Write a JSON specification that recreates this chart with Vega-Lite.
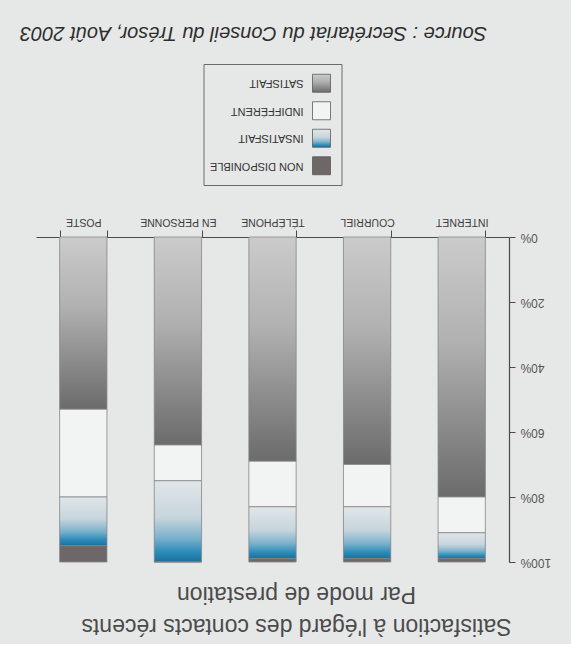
{
  "$schema": "https://vega.github.io/schema/vega-lite/v6.json",
  "background": "#e6e8e7",
  "padding": {"left": 19, "top": 22, "right": 21, "bottom": 7},
  "bounds": "flush",
  "center": true,
  "spacing": 52,
  "config": {
    "font": "Liberation Sans",
    "view": {"stroke": null},
    "axis": {
      "domainColor": "#4a4a4a",
      "tickColor": "#4a4a4a",
      "labelColor": "#3c3c3c",
      "labelFont": "Liberation Sans",
      "grid": false
    }
  },
  "vconcat": [
    {
      "width": 138,
      "height": 121,
      "view": {"stroke": "#6a6a6a", "strokeWidth": 1},
      "title": {
        "text": "Source : Secrétariat du Conseil du Trésor, Août 2003",
        "orient": "top",
        "anchor": "middle",
        "frame": "group",
        "angle": 180,
        "baseline": "top",
        "font": "Liberation Sans",
        "fontStyle": "italic",
        "fontWeight": "normal",
        "fontSize": 20,
        "color": "#2e2e2e",
        "offset": 1,
        "dx": 19
      },
      "data": {
        "values": [
          {"cat": "SATISFAIT", "ord": 1},
          {"cat": "INDIFFÉRENT", "ord": 2},
          {"cat": "INSATISFAIT", "ord": 3},
          {"cat": "NON DISPONIBLE", "ord": 4}
        ]
      },
      "encoding": {
        "y": {
          "field": "cat",
          "type": "nominal",
          "sort": ["SATISFAIT", "INDIFFÉRENT", "INSATISFAIT", "NON DISPONIBLE"],
          "scale": {"type": "point", "padding": 0.7},
          "axis": null
        }
      },
      "layer": [
        {
          "mark": {"type": "square", "size": 324, "x": 118, "filled": true, "opacity": 1, "stroke": "#5a5a5a", "strokeWidth": 0.8},
          "encoding": {
            "fill": {
              "condition": [
                {"test": "datum.cat === 'SATISFAIT'", "value": {"gradient": "linear", "x1": 0, "y1": 0, "x2": 0, "y2": 1, "stops": [{"offset": 0, "color": "#cbcbcb"}, {"offset": 0.4, "color": "#b1b1b1"}, {"offset": 0.7, "color": "#8e8e8e"}, {"offset": 1, "color": "#6b6b6b"}]}},
                {"test": "datum.cat === 'INSATISFAIT'", "value": {"gradient": "linear", "x1": 0, "y1": 0, "x2": 0, "y2": 1, "stops": [{"offset": 0, "color": "#e0e6e9"}, {"offset": 0.45, "color": "#c7d5dc"}, {"offset": 0.7, "color": "#7eb2cc"}, {"offset": 0.88, "color": "#2b8bb9"}, {"offset": 1, "color": "#1b6f9b"}]}},
                {"test": "datum.cat === 'NON DISPONIBLE'", "value": "#6d6767"}
              ],
              "value": "#f2f3f3"
            }
          }
        },
        {
          "mark": {"type": "text", "x": 100, "angle": 180, "align": "left", "baseline": "middle", "fontSize": 11, "color": "#333333"},
          "encoding": {"text": {"field": "cat"}}
        }
      ]
    },
    {
      "width": 473,
      "height": 325,
      "title": {
        "text": ["Satisfaction à l'égard des contacts récents", "Par mode de prestation"],
        "orient": "bottom",
        "anchor": "middle",
        "angle": 180,
        "baseline": "bottom",
        "font": "Liberation Sans",
        "fontSize": 23,
        "fontWeight": "normal",
        "color": "#4b4b4b",
        "lineHeight": 32,
        "offset": 46,
        "dx": -24
      },
      "data": {
        "values": [
          {"mode": "INTERNET", "cat": "SATISFAIT", "ord": 1, "value": 80},
          {"mode": "INTERNET", "cat": "INDIFFÉRENT", "ord": 2, "value": 11},
          {"mode": "INTERNET", "cat": "INSATISFAIT", "ord": 3, "value": 8},
          {"mode": "INTERNET", "cat": "NON DISPONIBLE", "ord": 4, "value": 1},
          {"mode": "COURRIEL", "cat": "SATISFAIT", "ord": 1, "value": 70},
          {"mode": "COURRIEL", "cat": "INDIFFÉRENT", "ord": 2, "value": 13},
          {"mode": "COURRIEL", "cat": "INSATISFAIT", "ord": 3, "value": 16},
          {"mode": "COURRIEL", "cat": "NON DISPONIBLE", "ord": 4, "value": 1},
          {"mode": "TÉLÉPHONE", "cat": "SATISFAIT", "ord": 1, "value": 69},
          {"mode": "TÉLÉPHONE", "cat": "INDIFFÉRENT", "ord": 2, "value": 14},
          {"mode": "TÉLÉPHONE", "cat": "INSATISFAIT", "ord": 3, "value": 16},
          {"mode": "TÉLÉPHONE", "cat": "NON DISPONIBLE", "ord": 4, "value": 1},
          {"mode": "EN PERSONNE", "cat": "SATISFAIT", "ord": 1, "value": 64},
          {"mode": "EN PERSONNE", "cat": "INDIFFÉRENT", "ord": 2, "value": 11},
          {"mode": "EN PERSONNE", "cat": "INSATISFAIT", "ord": 3, "value": 25},
          {"mode": "EN PERSONNE", "cat": "NON DISPONIBLE", "ord": 4, "value": 0},
          {"mode": "POSTE", "cat": "SATISFAIT", "ord": 1, "value": 53},
          {"mode": "POSTE", "cat": "INDIFFÉRENT", "ord": 2, "value": 27},
          {"mode": "POSTE", "cat": "INSATISFAIT", "ord": 3, "value": 15},
          {"mode": "POSTE", "cat": "NON DISPONIBLE", "ord": 4, "value": 5}
        ]
      },
      "mark": {"type": "bar", "stroke": "#858585", "strokeWidth": 0.8},
      "encoding": {
        "x": {
          "field": "mode",
          "type": "nominal",
          "sort": ["POSTE", "EN PERSONNE", "TÉLÉPHONE", "COURRIEL", "INTERNET"],
          "scale": {"paddingInner": 0.5, "paddingOuter": 0.25},
          "axis": {
            "orient": "top",
            "title": null,
            "tickBand": "extent",
            "labelAngle": 180,
            "labelAlign": "center",
            "labelBaseline": "top",
            "tickSize": 7,
            "labelPadding": 4,
            "labelFontSize": 10.5,
            "domainWidth": 1.2
          }
        },
        "y": {
          "field": "value",
          "type": "quantitative",
          "stack": "zero",
          "scale": {"domain": [0, 100], "reverse": true, "nice": false},
          "axis": {
            "orient": "right",
            "title": null,
            "values": [0, 20, 40, 60, 80, 100],
            "labelExpr": "datum.value + '%'",
            "labelAngle": 180,
            "labelAlign": "right",
            "labelBaseline": "middle",
            "tickSize": 6,
            "labelPadding": 5,
            "labelFontSize": 12,
            "labelColor": "#555555",
            "domainWidth": 1.2
          }
        },
        "detail": {"field": "cat"},
        "order": {"field": "ord", "type": "quantitative", "sort": "ascending"},
        "fill": {
          "condition": [
            {"test": "datum.cat === 'SATISFAIT'", "value": {"gradient": "linear", "x1": 0, "y1": 0, "x2": 0, "y2": 1, "stops": [{"offset": 0, "color": "#cbcbcb"}, {"offset": 0.4, "color": "#b1b1b1"}, {"offset": 0.7, "color": "#8e8e8e"}, {"offset": 1, "color": "#6b6b6b"}]}},
            {"test": "datum.cat === 'INSATISFAIT'", "value": {"gradient": "linear", "x1": 0, "y1": 0, "x2": 0, "y2": 1, "stops": [{"offset": 0, "color": "#e0e6e9"}, {"offset": 0.45, "color": "#c7d5dc"}, {"offset": 0.7, "color": "#7eb2cc"}, {"offset": 0.88, "color": "#2b8bb9"}, {"offset": 1, "color": "#1b6f9b"}]}},
            {"test": "datum.cat === 'NON DISPONIBLE'", "value": "#6d6767"}
          ],
          "value": "#f2f3f3"
        }
      }
    }
  ]
}
